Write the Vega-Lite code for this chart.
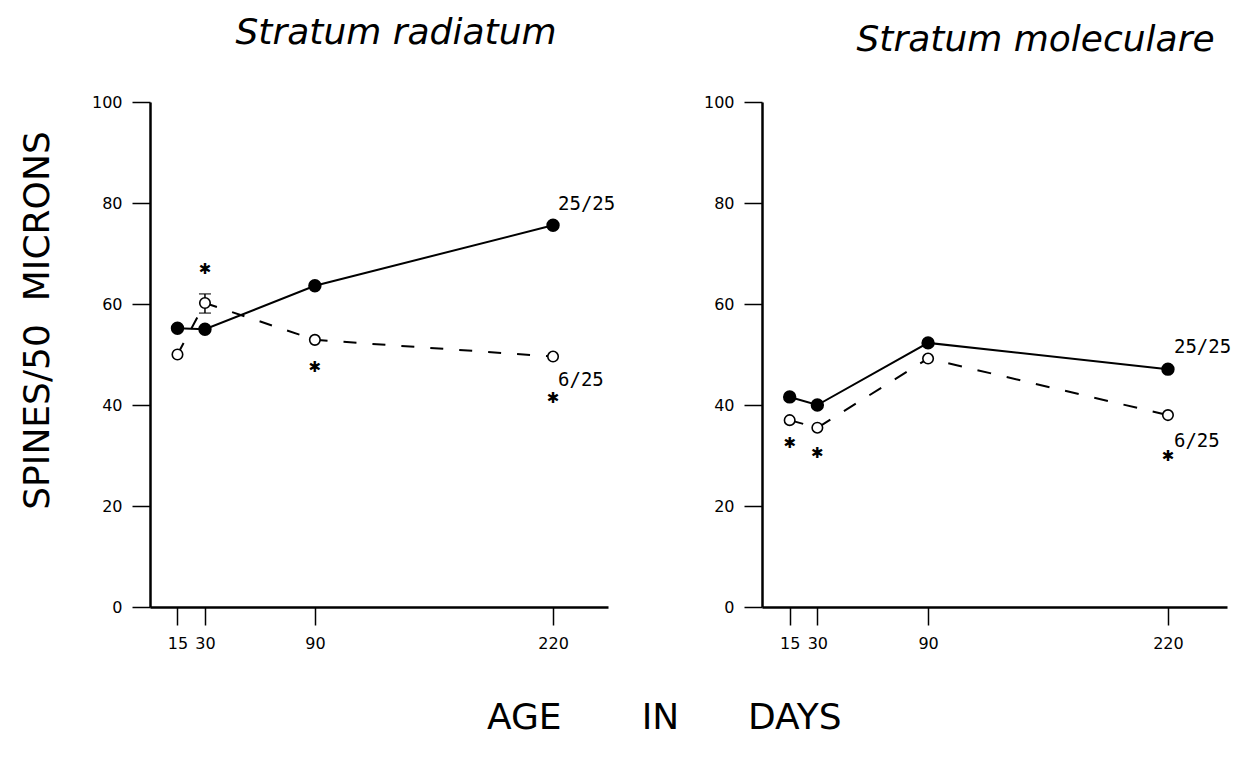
{
  "$schema": "https://vega.github.io/schema/vega-lite/v6.json",
  "padding": {"left": 19, "top": 15, "right": 5, "bottom": 5},
  "background": "white",
  "title": {"text": "AGE\u00a0\u00a0\u00a0\u00a0\u00a0\u00a0\u00a0IN\u00a0\u00a0\u00a0\u00a0\u00a0\u00a0DAYS", "orient": "bottom", "anchor": "middle", "font": "DejaVu Sans", "fontSize": 36, "fontWeight": "normal", "color": "black", "offset": 50, "dx": 39},
  "datasets": {
    "pts": [
      {"panel": "radiatum", "kind": "filled", "age": 15, "value": 55.2},
      {"panel": "radiatum", "kind": "filled", "age": 30, "value": 55},
      {"panel": "radiatum", "kind": "filled", "age": 90, "value": 63.6},
      {"panel": "radiatum", "kind": "filled", "age": 220, "value": 75.6},
      {"panel": "radiatum", "kind": "open", "age": 15, "value": 50},
      {"panel": "radiatum", "kind": "open", "age": 30, "value": 60.2},
      {"panel": "radiatum", "kind": "open", "age": 90, "value": 52.9},
      {"panel": "radiatum", "kind": "open", "age": 220, "value": 49.6},
      {"panel": "radiatum", "kind": "err", "age": 30, "lo": 58.2, "hi": 62},
      {"panel": "radiatum", "kind": "star", "age": 30, "value": 66.9},
      {"panel": "radiatum", "kind": "star", "age": 90, "value": 47.6},
      {"panel": "radiatum", "kind": "star", "age": 220, "value": 41.4},
      {"panel": "radiatum", "kind": "label", "age": 220, "value": 79.8, "label": "25/25"},
      {"panel": "radiatum", "kind": "label", "age": 220, "value": 45, "label": "6/25"},
      {"panel": "moleculare", "kind": "filled", "age": 15, "value": 41.6},
      {"panel": "moleculare", "kind": "filled", "age": 30, "value": 40},
      {"panel": "moleculare", "kind": "filled", "age": 90, "value": 52.3},
      {"panel": "moleculare", "kind": "filled", "age": 220, "value": 47.1},
      {"panel": "moleculare", "kind": "open", "age": 15, "value": 37},
      {"panel": "moleculare", "kind": "open", "age": 30, "value": 35.5},
      {"panel": "moleculare", "kind": "open", "age": 90, "value": 49.2},
      {"panel": "moleculare", "kind": "open", "age": 220, "value": 38},
      {"panel": "moleculare", "kind": "star", "age": 15, "value": 32.5},
      {"panel": "moleculare", "kind": "star", "age": 30, "value": 30.5},
      {"panel": "moleculare", "kind": "star", "age": 220, "value": 29.9},
      {"panel": "moleculare", "kind": "label", "age": 220, "value": 51.5, "label": "25/25"},
      {"panel": "moleculare", "kind": "label", "age": 220, "value": 32.9, "label": "6/25"}
    ]
  },
  "data": {"name": "pts"},
  "hconcat": [
    {
      "width": 458,
      "height": 505,
      "title": {"text": "Stratum radiatum", "font": "DejaVu Sans", "fontSize": 36, "fontStyle": "italic", "fontWeight": 200, "color": "black", "anchor": "middle", "dx": 17, "offset": 42},
      "encoding": {
        "x": {"field": "age", "type": "quantitative", "scale": {"domain": [0, 250], "nice": false, "zero": false}, "axis": {"values": [15, 30, 90, 220], "title": null}},
        "y": {"field": "value", "type": "quantitative", "scale": {"domain": [0, 100], "nice": false}, "axis": {"values": [0, 20, 40, 60, 80, 100], "title": "SPINES/50\u00a0\u00a0MICRONS", "titleFont": "DejaVu Sans", "titleFontSize": 36, "titleFontWeight": "normal", "titleColor": "black", "titlePadding": 35, "titleY": 218}}
      },
      "layer": [
        {"transform": [{"filter": "datum.panel == 'radiatum' && datum.kind == 'filled'"}], "mark": {"type": "line", "color": "black", "strokeWidth": 2}},
        {"transform": [{"filter": "datum.panel == 'radiatum' && datum.kind == 'open'"}], "mark": {"type": "line", "color": "black", "strokeWidth": 2, "strokeDash": [13, 16]}},
        {"transform": [{"filter": "datum.panel == 'radiatum' && datum.kind == 'err'"}], "mark": {"type": "errorbar", "color": "black", "thickness": 1.5, "ticks": {"size": 12}}, "encoding": {"y": {"field": "lo", "type": "quantitative", "axis": {"title": "SPINES/50\u00a0\u00a0MICRONS"}}, "y2": {"field": "hi"}}},
        {"transform": [{"filter": "datum.panel == 'radiatum' && datum.kind == 'filled'"}], "mark": {"type": "point", "filled": true, "fill": "black", "stroke": "black", "size": 130, "opacity": 1}},
        {"transform": [{"filter": "datum.panel == 'radiatum' && datum.kind == 'open'"}], "mark": {"type": "point", "filled": true, "fill": "white", "stroke": "black", "strokeWidth": 1.6, "size": 110, "opacity": 1}},
        {"transform": [{"filter": "datum.panel == 'radiatum' && datum.kind == 'star'"}], "mark": {"type": "text", "text": "✱", "font": "DejaVu Sans", "fontSize": 15, "align": "center", "baseline": "middle", "color": "black"}},
        {"transform": [{"filter": "datum.panel == 'radiatum' && datum.kind == 'label'"}], "mark": {"type": "text", "font": "DejaVu Sans Mono", "fontSize": 19, "align": "left", "baseline": "middle", "dx": 5, "color": "black"}, "encoding": {"text": {"field": "label"}}}
      ]
    },
    {
      "width": 465,
      "height": 505,
      "title": {"text": "Stratum moleculare", "font": "DejaVu Sans", "fontSize": 36, "fontStyle": "italic", "fontWeight": 200, "color": "black", "anchor": "middle", "dx": 41, "offset": 35},
      "encoding": {
        "x": {"field": "age", "type": "quantitative", "scale": {"domain": [0, 252], "nice": false, "zero": false}, "axis": {"values": [15, 30, 90, 220], "title": null}},
        "y": {"field": "value", "type": "quantitative", "scale": {"domain": [0, 100], "nice": false}, "axis": {"values": [0, 20, 40, 60, 80, 100], "title": null}}
      },
      "layer": [
        {"transform": [{"filter": "datum.panel == 'moleculare' && datum.kind == 'filled'"}], "mark": {"type": "line", "color": "black", "strokeWidth": 2}},
        {"transform": [{"filter": "datum.panel == 'moleculare' && datum.kind == 'open'"}], "mark": {"type": "line", "color": "black", "strokeWidth": 2, "strokeDash": [14, 16]}},
        {"transform": [{"filter": "datum.panel == 'moleculare' && datum.kind == 'filled'"}], "mark": {"type": "point", "filled": true, "fill": "black", "stroke": "black", "size": 130, "opacity": 1}},
        {"transform": [{"filter": "datum.panel == 'moleculare' && datum.kind == 'open'"}], "mark": {"type": "point", "filled": true, "fill": "white", "stroke": "black", "strokeWidth": 1.6, "size": 110, "opacity": 1}},
        {"transform": [{"filter": "datum.panel == 'moleculare' && datum.kind == 'star'"}], "mark": {"type": "text", "text": "✱", "font": "DejaVu Sans", "fontSize": 15, "align": "center", "baseline": "middle", "color": "black"}},
        {"transform": [{"filter": "datum.panel == 'moleculare' && datum.kind == 'label'"}], "mark": {"type": "text", "font": "DejaVu Sans Mono", "fontSize": 19, "align": "left", "baseline": "middle", "dx": 6, "color": "black"}, "encoding": {"text": {"field": "label"}}}
      ]
    }
  ],
  "config": {
    "view": {"stroke": null},
    "concat": {"spacing": 87},
    "axis": {"grid": false, "domainColor": "black", "domainWidth": 2.5, "tickColor": "black", "tickWidth": 1.5, "tickSize": 18, "labelFont": "DejaVu Sans", "labelFontSize": 16, "labelColor": "black", "labelPadding": 10}
  }
}
